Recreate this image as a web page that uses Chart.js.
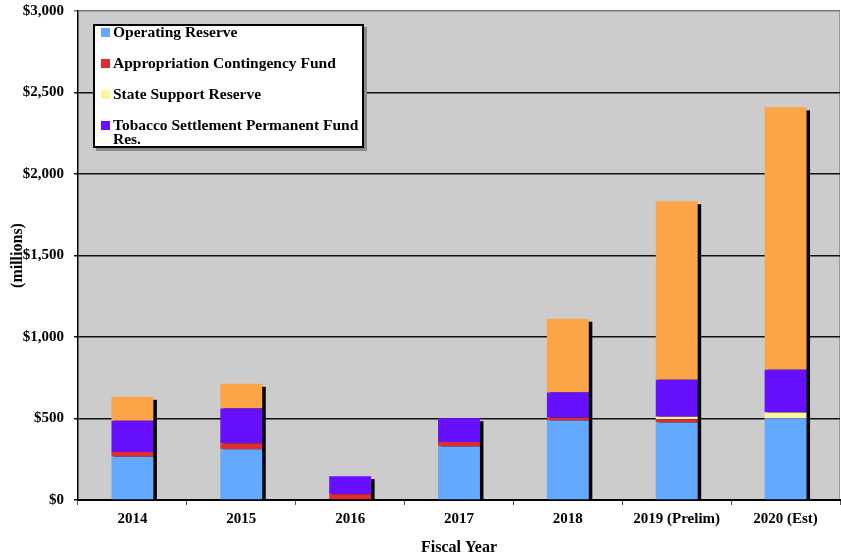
<!DOCTYPE html>
<html>
<head>
<meta charset="utf-8">
<script src="https://cdn.jsdelivr.net/npm/chart.js@4.4.1/dist/chart.umd.min.js"></script>
<style>
	body { margin: 0; background: #fff; }
	#wrap { position: relative; width: 841px; height: 560px; }
	#legend {
		position: absolute; left: 93px; top: 24px; width: 271px; height: 124px;
		box-sizing: border-box; border: 2px solid #000; background: #fff;
		box-shadow: 3px 3px 0 #8a8a8a;
		font-family: "Liberation Serif", "Times New Roman", serif; font-weight: bold; font-size: 15.5px;
	}
	#legend .item { position: absolute; left: 18px; width: 252px; line-height: 14px; color: #000; }
	#legend .box { position: absolute; left: -12px; top: 2.5px; width: 9px; height: 9px; }
</style>
</head>
<body>
<div id="wrap">
	<canvas id="lienzo" width="841" height="560"></canvas>
	<div id="legend"></div>
</div>
<script>
const years = ['2014', '2015', '2016', '2017', '2018', '2019 (Prelim)', '2020 (Est)'];

// $ millions
const operatingReserve = [266, 311, 0, 328, 487, 475, 502];
const appropContingency = [29, 37, 35, 28, 17, 21, 0];
const stateSupport = [0, 0, 0, 0, 0, 14, 35];
const tobaccoReserve = [191, 213, 111, 146, 156, 227, 262];
const budgetStabilization = [147, 152, 0, 0, 452, 1096, 1610];

const yTicks = [0, 500, 1000, 1500, 2000, 2500, 3000];

const serif = '"Liberation Serif", "Times New Roman", serif';

// gray plot area + right edge
const plotBg = {
	id: 'plotBg',
	beforeDraw(chart) {
		const { ctx, chartArea: a } = chart;
		ctx.save();
		ctx.fillStyle = '#cccccc';
		ctx.fillRect(a.left, a.top, a.right - a.left, a.bottom - a.top);
		ctx.strokeStyle = '#9a9a9a';
		ctx.lineWidth = 1;
		ctx.beginPath();
		ctx.moveTo(a.right - 0.5, a.top);
		ctx.lineTo(a.right - 0.5, a.bottom);
		ctx.stroke();
		ctx.restore();
	}
};

// black drop shadow behind each stacked column
const barShadow = {
	id: 'barShadow',
	beforeDatasetsDraw(chart) {
		const { ctx } = chart;
		const base = chart.scales.y.getPixelForValue(0);
		ctx.save();
		ctx.fillStyle = '#000';
		years.forEach((y, j) => {
			let top = null, el = null;
			chart.data.datasets.forEach((ds, i) => {
				if (!ds.data[j]) return;
				const e = chart.getDatasetMeta(i).data[j];
				if (top === null || e.y < top) { top = e.y; el = e; }
			});
			if (!el) return;
			ctx.fillRect(el.x - el.width / 2 + 3, top + 3, el.width + 0.5, base - top - 3);
		});
		ctx.restore();
	}
};

const chart = new Chart(document.getElementById('lienzo'), {
	type: 'bar',
	data: {
		labels: years,
		datasets: [
			{ label: 'Operating Reserve', data: operatingReserve, backgroundColor: '#63a9ff' },
			{ label: 'Appropriation Contingency Fund', data: appropContingency, backgroundColor: '#de2c2f' },
			{ label: 'State Support Reserve', data: stateSupport, backgroundColor: '#fff59b' },
			{ label: 'Tobacco Settlement Permanent Fund Res.', data: tobaccoReserve, backgroundColor: '#6610ff' },
			{ label: 'Budget Stabilization Fund', data: budgetStabilization, backgroundColor: '#fca548', hideInLegend: true },
		],
	},
	options: {
		responsive: false,
		animation: false,
		devicePixelRatio: 1,
		layout: { padding: { top: 11, right: 1, left: 0, bottom: 0 } },
		datasets: { bar: { categoryPercentage: 1, barPercentage: 0.385, borderWidth: 0 } },
		plugins: { legend: { display: false }, tooltip: { enabled: false } },
		scales: {
			x: {
				stacked: true,
				afterFit: s => { s.height = 60; s.paddingLeft = 0; s.paddingRight = 0; },
				grid: { offset: true, drawOnChartArea: false, tickLength: 5, color: '#555', lineWidth: 1 },
				border: { color: '#000', width: 2 },
				ticks: { color: '#000', padding: 5, font: { family: serif, weight: 'bold', size: 15 } },
				title: { display: true, text: 'Fiscal Year', color: '#000', padding: { top: 0, bottom: 3 },
					font: { family: serif, weight: 'bold', size: 16 } },
			},
			y: {
				stacked: true,
				min: 0, max: 3000,
				afterFit: s => { s.width = 78; s.paddingTop = 0; s.paddingBottom = 0; },
				afterBuildTicks: s => { s.ticks = yTicks.map(v => ({ value: v })); },
				grid: { tickLength: 4, lineWidth: 1.5, color: c => c.tick && c.tick.value === 3000 ? '#777' : '#111' },
				border: { color: '#000', width: 1.5 },
				ticks: {
					color: '#000', padding: 10,
					font: { family: serif, weight: 'bold', size: 15 },
					callback: v => '$' + v.toLocaleString('en-US'),
				},
				title: { display: true, text: '(millions)', color: '#000', padding: { top: 8, bottom: 0 },
					font: { family: serif, weight: 'bold', size: 16 } },
			},
		},
	},
	plugins: [plotBg, barShadow],
});

// html legend built from the datasets
const legend = document.getElementById('legend');
chart.data.datasets.filter(ds => !ds.hideInLegend).forEach((ds, i) => {
	const item = document.createElement('div');
	item.className = 'item';
	item.style.top = (-1 + i * 31) + 'px';
	item.textContent = ds.label;
	const box = document.createElement('span');
	box.className = 'box';
	box.style.background = ds.backgroundColor;
	item.appendChild(box);
	legend.appendChild(item);
});
</script>
</body>
</html>
